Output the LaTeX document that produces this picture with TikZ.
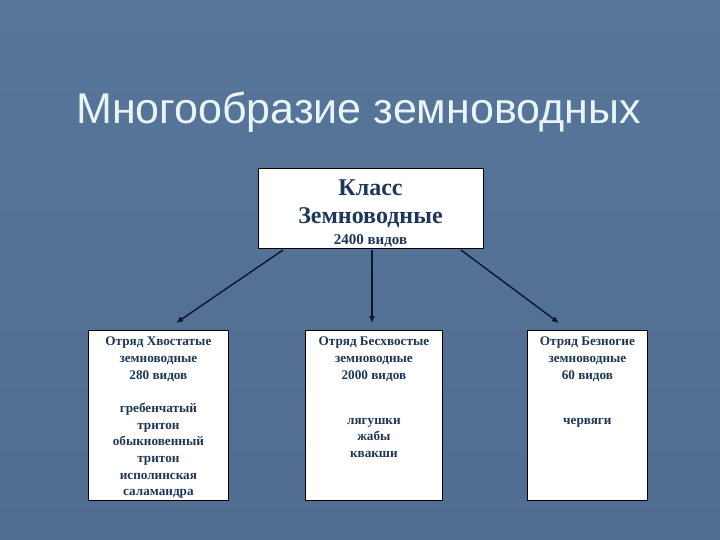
\documentclass[tikz,border=0pt]{standalone}
\usepackage{fontspec}
\setmainfont{Liberation Serif}
\newfontfamily\titlefont{Liberation Sans}
\usetikzlibrary{arrows.meta,positioning}
\definecolor{slide}{RGB}{80,109,145}
\definecolor{slidetop}{RGB}{88,118,154}
\definecolor{titlecol}{RGB}{232,244,246}
\definecolor{boxtext}{RGB}{30,55,85}
\definecolor{arrowcol}{RGB}{12,20,45}
\tikzset{
  box/.style={draw=black,line width=0.8pt,fill=white,anchor=north west,inner sep=0pt},
  boxtxt/.style={anchor=north,align=center,text=boxtext,font=\bfseries\fontsize{13.2}{16.6}\selectfont,inner sep=0pt},
  link/.style={draw=arrowcol,line width=1.4pt,-{Latex[length=7pt,width=6pt]}}
}
\begin{document}
\begin{tikzpicture}[x=1pt,y=-1pt]
		\useasboundingbox (0,0) rectangle (720,540);
		\shade [top color=slidetop,bottom color=slide] (0,0) rectangle (720,540);
		\node [anchor=base west,text=titlecol,inner sep=0pt,font=\titlefont\fontsize{43}{48}\selectfont] (title) at (76,124) {Многообразие земноводных};
		% class box
		\node [box,minimum width=225pt,minimum height=80pt] (class) at (258,168) {};
		\node [anchor=base,text=boxtext,inner sep=0pt,font=\bfseries\fontsize{24}{26}\selectfont] (k1) at (370.5,196) {Класс};
		\node [anchor=base,text=boxtext,inner sep=0pt,font=\bfseries\fontsize{24}{26}\selectfont] (k2) at (370.5,223) {Земноводные};
		\node [anchor=base,text=boxtext,inner sep=0pt,font=\bfseries\fontsize{15}{17}\selectfont] (k3) at (370.5,244) {2400 видов};
		% orders
		\node [box,minimum width=140pt,minimum height=170pt] (tail) at (88,330) {};
		\node [box,minimum width=137pt,minimum height=170pt] (notail) at (305,330) {};
		\node [box,minimum width=120pt,minimum height=170pt] (noleg) at (527,330) {};
		\node [boxtxt] (tailhead) at ([yshift=-7pt]tail.north) {Отряд Хвостатые\\земноводные\\280 видов};
		\node [boxtxt] (tailbody) at ([yshift=-73pt]tail.north) {гребенчатый\\тритон\\обыкновенный\\тритон\\исполинская\\саламандра};
		\node [boxtxt] (notailhead) at ([yshift=-7pt]notail.north) {Отряд Бесхвостые\\земноводные\\2000 видов};
		\node [boxtxt] (notailbody) at ([yshift=-88pt]notail.north) {лягушки\\жабы\\квакши};
		\node [boxtxt] (noleghead) at ([yshift=-7pt]noleg.north) {Отряд Безногие\\земноводные\\60 видов};
		\node [boxtxt] (nolegbody) at ([yshift=-88pt]noleg.north) {червяги};
		% arrows
		\coordinate (a1) at (283,250);
		\coordinate (a2) at (372,250);
		\coordinate (a3) at (461,250);
		\coordinate (b1) at (176,323);
		\coordinate (b2) at (372,323);
		\coordinate (b3) at (559,323);
		\draw [link] (a1) -- (b1);
		\draw [link] (a2) -- (b2);
		\draw [link] (a3) -- (b3);
\end{tikzpicture}
\end{document}
